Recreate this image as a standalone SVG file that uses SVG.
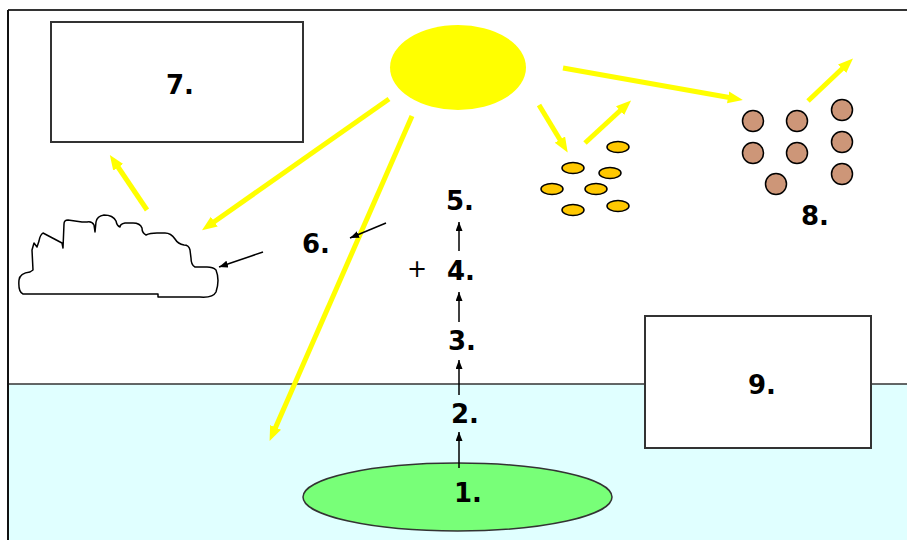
<svg xmlns="http://www.w3.org/2000/svg" width="907" height="540" viewBox="0 0 907 540">
<style>
.lbl{font-family:"DejaVu Sans",Verdana,sans-serif;font-weight:bold;font-size:26px;fill:#000}
.box{fill:#fff;stroke:#333;stroke-width:2}
.ray{stroke:#ffff00;stroke-width:5;fill:none}
.blk{stroke:#000;stroke-width:1.5;fill:none}
.grain{fill:#ffc800;stroke:#000;stroke-width:1.5}
.bead{fill:#cd9678;stroke:#000;stroke-width:1.5}
</style>
<defs>
<marker id="ya" markerUnits="userSpaceOnUse" markerWidth="16" markerHeight="14" refX="4" refY="6" orient="auto">
<path d="M0,0 L15,6 L0,12 z" fill="#ffff00"/>
</marker>
<marker id="ba" markerUnits="userSpaceOnUse" markerWidth="10" markerHeight="8" refX="9" refY="3.5" orient="auto">
<path d="M0,0 L9,3.5 L0,7 z" fill="#000"/>
</marker>
</defs>
<rect x="0" y="0" width="907" height="540" fill="#fff"/>
<g id="water">
<rect x="8" y="384" width="899" height="156" fill="#e0ffff"/>
<line x1="8" y1="384" x2="907" y2="384" stroke="#333" stroke-width="1.5"/>
</g>
<g id="frame">
<line x1="8" y1="10" x2="907" y2="10" stroke="#333" stroke-width="2"/>
<line x1="8" y1="10" x2="8" y2="540" stroke="#111" stroke-width="2"/>
</g>
<g id="node7"><rect class="box" x="51" y="22" width="252" height="120"/><text class="lbl" x="166" y="94">7.</text></g>
<g id="node9"><rect class="box" x="645" y="316" width="226" height="132"/><text class="lbl" x="748" y="394">9.</text></g>
<g id="sun"><ellipse cx="458" cy="67.5" rx="68" ry="42.5" fill="#ffff00"/></g>
<g id="cloud"><path d="M23,294 L158,294 L158,297 L200,297 Q213,298 216,292 Q220,280 216,270 Q213,267 207,267 L195,267 Q191,265 191,258 L190,250 Q189,245 184,245 Q178,244 175,239 Q171,233 165,233 L157,233 Q150,233 146,235 Q142,233 142,228 Q140,223 133,223 L125,223 Q120,224 120,227 Q117,226 116,221 Q113,215 104,215 Q97,216 96,222 L95,232 L94,225 Q92,221 87,222 L82,222 L68,220 Q64,220 64,224 L63,248 L62,243 L43,233 Q40,235 39,241 L37,247 L34,243 L32,250 L33,270 L30,272 Q20,273 19,280 Q18,292 23,294 Z" fill="#fff" stroke="#000" stroke-width="1.5" stroke-linejoin="round"/></g>
<g id="node1"><ellipse cx="457.5" cy="497" rx="154.5" ry="34" fill="#78ff78" stroke="#333" stroke-width="1.5"/><text class="lbl" x="454" y="502">1.</text></g>
<g id="node2"><text class="lbl" x="451" y="423">2.</text></g>
<g id="node3"><text class="lbl" x="448" y="350">3.</text></g>
<g id="node4"><text class="lbl" x="447" y="280">4.</text></g>
<g id="node5"><text class="lbl" x="446" y="210">5.</text></g>
<g id="node6"><text class="lbl" x="302" y="253">6.</text></g>
<g id="plus"><text x="417" y="277" text-anchor="middle" font-family="DejaVu Sans,sans-serif" font-size="24" fill="#000">+</text></g>
<g id="grains">
<ellipse class="grain" cx="618" cy="147" rx="11" ry="5.5"/>
<ellipse class="grain" cx="573" cy="168" rx="11" ry="5.5"/>
<ellipse class="grain" cx="610" cy="173" rx="11" ry="5.5"/>
<ellipse class="grain" cx="552" cy="189" rx="11" ry="5.5"/>
<ellipse class="grain" cx="596" cy="189" rx="11" ry="5.5"/>
<ellipse class="grain" cx="573" cy="210" rx="11" ry="5.5"/>
<ellipse class="grain" cx="618" cy="206" rx="11" ry="5.5"/>
</g>
<g id="node8">
<circle class="bead" cx="753" cy="121" r="10.5"/>
<circle class="bead" cx="797" cy="121" r="10.5"/>
<circle class="bead" cx="842" cy="110" r="10.5"/>
<circle class="bead" cx="753" cy="153" r="10.5"/>
<circle class="bead" cx="797" cy="153" r="10.5"/>
<circle class="bead" cx="842" cy="142" r="10.5"/>
<circle class="bead" cx="776" cy="184" r="10.5"/>
<circle class="bead" cx="842" cy="174" r="10.5"/>
<text class="lbl" x="801" y="225">8.</text>
</g>
<g id="connectors">
<line class="ray" x1="389" y1="99" x2="211" y2="224" marker-end="url(#ya)"/>
<line class="ray" x1="412" y1="116" x2="274" y2="431" marker-end="url(#ya)"/>
<line class="ray" x1="147" y1="210" x2="116" y2="164" marker-end="url(#ya)"/>
<line class="ray" x1="539" y1="105" x2="562" y2="143" marker-end="url(#ya)"/>
<line class="ray" x1="585" y1="143" x2="623" y2="108" marker-end="url(#ya)"/>
<line class="ray" x1="563" y1="68" x2="732" y2="98" marker-end="url(#ya)"/>
<line class="ray" x1="808" y1="101" x2="845" y2="66" marker-end="url(#ya)"/>
<line class="blk" x1="263" y1="252" x2="219" y2="267" marker-end="url(#ba)"/>
<line class="blk" x1="386" y1="223" x2="350" y2="238" marker-end="url(#ba)"/>
<line class="blk" x1="459" y1="468" x2="459" y2="432" marker-end="url(#ba)"/>
<line class="blk" x1="459" y1="395" x2="459" y2="360" marker-end="url(#ba)"/>
<line class="blk" x1="459" y1="322" x2="459" y2="292" marker-end="url(#ba)"/>
<line class="blk" x1="459" y1="251" x2="459" y2="222" marker-end="url(#ba)"/>
</g>
</svg>
